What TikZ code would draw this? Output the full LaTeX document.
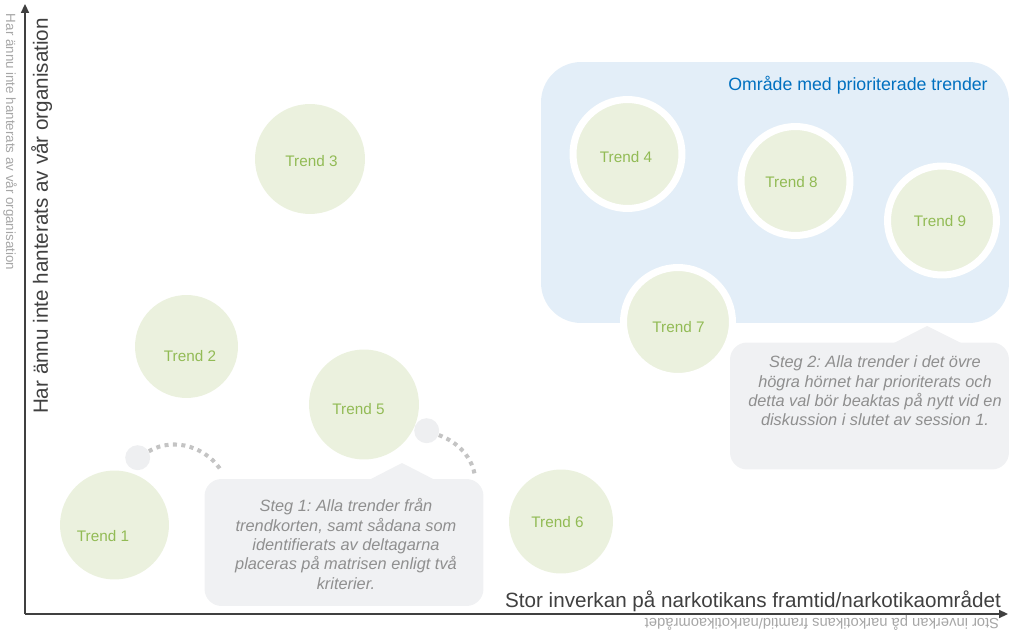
\documentclass[tikz,border=0pt]{standalone}
\usepackage{fontspec}
\setmainfont{Liberation Sans}
\usetikzlibrary{arrows.meta}
\frenchspacing
\definecolor{trendfill}{HTML}{EBF1DE}
\definecolor{trendtext}{HTML}{92BB55}
\definecolor{zonefill}{HTML}{E3EEF8}
\definecolor{zonetext}{HTML}{0070C0}
\definecolor{callfill}{HTML}{F0F1F3}
\definecolor{calltext}{HTML}{8F8F8F}
\definecolor{axiscol}{HTML}{404040}
\definecolor{ghost}{HTML}{A6A6A6}
\definecolor{dotcol}{HTML}{C4C4C4}
\definecolor{smallfill}{HTML}{EEEFF1}
\begin{document}
\begin{tikzpicture}[x=0.02cm,y=-0.02cm,
 trend/.style={circle,fill=trendfill,inner sep=0pt},
 ringed/.style={trend,draw=white,line width=0.14cm,minimum size=2.18cm},
 tlabel/.style={text=trendtext,font=\fontsize{8.7}{10}\selectfont,inner sep=0pt},
 callbox/.style={fill=callfill,rounded corners=0.34cm,minimum width=5.58cm,minimum height=2.54cm,inner sep=0pt},
 callptr/.style={fill=callfill},
 calltxt/.style={text=calltext,font=\fontsize{9.3}{11.05}\selectfont\itshape,align=center,inner sep=0pt},
 smallc/.style={circle,fill=smallfill,minimum size=0.5cm,inner sep=0pt},
 dotarc/.style={draw=dotcol,line width=2.3pt,dash pattern=on 2.3pt off 2.5pt},
 axisline/.style={draw=axiscol,line width=1pt,-{Triangle[length=5pt,width=4.5pt]}},
 axislabel/.style={text=axiscol,font=\fontsize{11.75}{14}\selectfont,inner sep=0pt},
 ghostlabel/.style={text=ghost,inner sep=0pt},
]
\useasboundingbox (0,0) rectangle (1009,635);

% priority zone
\node[fill=zonefill,rounded corners=0.8cm,minimum width=9.36cm,minimum height=5.22cm,inner sep=0pt] (zone) at (775,192.5) {};
\node[text=zonetext,font=\fontsize{10.1}{12}\selectfont,inner sep=0pt] (zonetitle) at (858,85) {Område med prioriterade trender};

% ringed trends
\node[ringed] (t4) at (627.5,154) {};
\node[ringed] (t8) at (795.5,181) {};
\node[ringed] (t9) at (942,220.5) {};
\node[ringed] (t7) at (678,322) {};
\node[tlabel] (t4l) at (626,157) {Trend 4};
\node[tlabel] (t8l) at (791.5,182) {Trend 8};
\node[tlabel] (t9l) at (940,221) {Trend 9};
\node[tlabel] (t7l) at (678.5,327) {Trend 7};

% other trends
\node[trend,minimum size=2.18cm] (t1) at (114.5,525) {};
\node[trend,minimum size=2.06cm] (t2) at (186.5,346.5) {};
\node[trend,minimum size=2.2cm] (t3) at (310,159) {};
\node[trend,minimum size=2.2cm] (t5) at (364,404.5) {};
\node[trend,minimum size=2.08cm] (t6) at (561,521.5) {};
\node[tlabel] (t1l) at (103,536) {Trend 1};
\node[tlabel] (t2l) at (190,356) {Trend 2};
\node[tlabel] (t3l) at (311.5,161) {Trend 3};
\node[tlabel] (t5l) at (358.5,409) {Trend 5};
\node[tlabel] (t6l) at (557.5,522) {Trend 6};

% callout 1
\node[callbox] (s1box) at (344,542.5) {};
\fill[callptr] (367,481) -- (402,463) -- (437,481) -- cycle;
\node[calltxt] (s1) at (346,544) {Steg 1: Alla trender från\\trendkorten, samt sådana som\\identifierats av deltagarna\\placeras på matrisen enligt två\\kriterier.};

% callout 2
\node[callbox] (s2box) at (869.5,406) {};
\fill[callptr] (892,344) -- (927,326) -- (963,344) -- cycle;
\node[calltxt] (s2) at (875,391) {Steg 2: Alla trender i det övre\\högra hörnet har prioriterats och\\detta val bör beaktas på nytt vid en\\diskussion i slutet av session 1.};

% small circles and dotted arcs
\node[smallc] (c1) at (137.7,457.7) {};
\node[smallc] (c2) at (426.7,430.7) {};
\coordinate (a1) at (222,472);
\coordinate (a2) at (475,477);
\draw[dotarc] (c1) .. controls (175,436) and (208,448) .. (a1);
\draw[dotarc] (c2) .. controls (458,442) and (473,458) .. (a2);

% axes
\coordinate (O) at (25,614);
\coordinate (ytip) at (25,4);
\coordinate (xtip) at (1008,614);
\draw[axisline] (O) -- (ytip);
\draw[axisline] (O) -- (xtip);
\node[axislabel,rotate=90,anchor=base] (ylab) at (48,216) {Har ännu inte hanterats av vår organisation};
\node[axislabel,anchor=base] (xlab) at (753,607) {Stor inverkan på narkotikans framtid/narkotikaområdet};
\node[ghostlabel,font=\fontsize{7.6}{9}\selectfont,rotate=-90] (yghost) at (10,142) {Har ännu inte hanterats av vår organisation};
\node[ghostlabel,font=\fontsize{8.4}{10}\selectfont,rotate=180] (xghost) at (822,623) {Stor inverkan på narkotikans framtid/narkotikaområdet};
\end{tikzpicture}
\end{document}
